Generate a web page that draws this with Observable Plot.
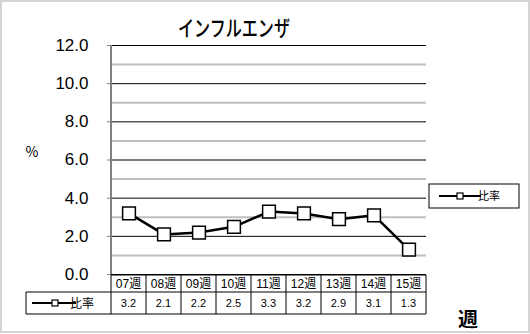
<!DOCTYPE html>
<html>
<head>
<meta charset="utf-8">
<script src="https://cdn.jsdelivr.net/npm/d3@7"></script>
<script src="https://cdn.jsdelivr.net/npm/@observablehq/plot@0.6"></script>
<style>
  html, body { margin: 0; padding: 0; background: #fff; }
  svg { display: block; }
</style>
</head>
<body>
<div id="chart"></div>
<script>
const title = "インフルエンザ";
const weeks = ["07週", "08週", "09週", "10週", "11週", "12週", "13週", "14週", "15週"];
const rates = [3.2, 2.1, 2.2, 2.5, 3.3, 3.2, 2.9, 3.1, 1.3];
const seriesName = "比率";
const yUnit = "%";
const xUnit = "週";
const yTicks = [0, 2, 4, 6, 8, 10, 12];
const minorGrid = [1, 3, 5, 7, 9, 11];

const data = weeks.map((w, i) => ({week: w, rate: rates[i]}));
const FONT = "'Liberation Sans', Arial, 'Noto Sans CJK JP', sans-serif";
const JFONT = "'Noto Sans CJK JP', sans-serif";

const plot = Plot.plot({
  width: 530,
  height: 334,
  marginLeft: 111,
  marginRight: 104,
  marginTop: 45,
  marginBottom: 60,
  style: {fontFamily: FONT, background: "#fff", overflow: "visible"},
  x: {type: "band", domain: weeks, padding: 0, axis: null},
  y: {domain: [0, 12], axis: null},
  marks: [
    Plot.ruleY(minorGrid, {stroke: "#c0c0c0", strokeWidth: 2}),
    Plot.ruleY(yTicks, {stroke: "#000", strokeWidth: 1}),
    Plot.axisY({ticks: yTicks, tickFormat: d3.format(".1f"), tickSize: 4, tickPadding: 19,
      stroke: "#808080", fontSize: 17, color: "#000", label: null}),
    Plot.line(data, {x: "week", y: "rate", stroke: "#000", strokeWidth: 2.5}),
    Plot.dot(data, {x: "week", y: "rate", symbol: "square", r: 7.2, fill: "#fff", stroke: "#000", strokeWidth: 1.5})
  ]
});

const svg = d3.select(plot);
const xs = plot.scale("x");
const ys = plot.scale("y");
const bw = xs.bandwidth;
const left = xs.apply(weeks[0]);
const right = xs.apply(weeks[weeks.length - 1]) + bw;
const y0 = ys.apply(0);
const yTop = ys.apply(12);

svg.selectAll("text").attr("fill", "#000");

// y axis line
svg.append("line").attr("x1", left).attr("x2", left).attr("y1", yTop).attr("y2", y0)
  .attr("stroke", "#808080").attr("stroke-width", 2);

// outer frame
svg.append("rect").attr("x", 1).attr("y", 1).attr("width", 528).attr("height", 331)
  .attr("fill", "none").attr("stroke", "#d4d4d4").attr("stroke-width", 2);

// title
svg.append("text").attr("x", 234).attr("y", 36).attr("text-anchor", "middle")
  .attr("font-family", JFONT).attr("font-size", 22).attr("font-weight", 500)
  .attr("textLength", 112).attr("lengthAdjust", "spacingAndGlyphs")
  .text(title);

// y unit
svg.append("text").attr("x", 32).attr("y", 157).attr("text-anchor", "middle")
  .attr("font-family", JFONT).attr("font-size", 14).text(yUnit);

// x unit
svg.append("text").attr("x", 468).attr("y", 327).attr("text-anchor", "middle")
  .attr("font-family", JFONT).attr("font-size", 20).attr("font-weight", "bold").text(xUnit);

// data table
const hTop = y0 + 1, hBot = y0 + 18, vBot = y0 + 40;
const legLeft = 26;
const tg = svg.append("g").attr("stroke", "#000").attr("stroke-width", 1).attr("fill", "none");
tg.append("line").attr("x1", left).attr("x2", right).attr("y1", hTop).attr("y2", hTop);
tg.append("line").attr("x1", legLeft).attr("x2", right).attr("y1", hBot).attr("y2", hBot);
tg.append("line").attr("x1", legLeft).attr("x2", right).attr("y1", vBot).attr("y2", vBot);
tg.append("line").attr("x1", legLeft).attr("x2", legLeft).attr("y1", hBot).attr("y2", vBot);
weeks.forEach((w) => {
  const xl = xs.apply(w);
  tg.append("line").attr("x1", xl).attr("x2", xl).attr("y1", hTop).attr("y2", vBot);
});
tg.append("line").attr("x1", right).attr("x2", right).attr("y1", hTop).attr("y2", vBot);

weeks.forEach((w, i) => {
  const cx = xs.apply(w) + bw / 2;
  svg.append("text").attr("x", cx).attr("y", (hTop + hBot) / 2 + 4.5).attr("text-anchor", "middle")
    .attr("font-family", FONT).attr("font-size", 12).text(w);
  svg.append("text").attr("x", cx).attr("y", (hBot + vBot) / 2 + 4).attr("text-anchor", "middle")
    .attr("font-family", FONT).attr("font-size", 11).text(d3.format(".1f")(rates[i]));
});

// legend key in table
const ly = (hBot + vBot) / 2;
svg.append("line").attr("x1", 32).attr("x2", 76).attr("y1", ly).attr("y2", ly)
  .attr("stroke", "#000").attr("stroke-width", 2);
svg.append("rect").attr("x", 52).attr("y", ly - 3).attr("width", 6).attr("height", 6)
  .attr("fill", "#fff").attr("stroke", "#000").attr("stroke-width", 1.2);
svg.append("text").attr("x", 82).attr("y", ly + 4.5).attr("font-family", JFONT)
  .attr("font-size", 12).text(seriesName);

// legend box
svg.append("rect").attr("x", 429).attr("y", 184).attr("width", 90).attr("height", 24)
  .attr("fill", "#fff").attr("stroke", "#000").attr("stroke-width", 1);
svg.append("line").attr("x1", 439).attr("x2", 481).attr("y1", 196).attr("y2", 196)
  .attr("stroke", "#000").attr("stroke-width", 2);
svg.append("rect").attr("x", 457).attr("y", 193).attr("width", 6).attr("height", 6)
  .attr("fill", "#fff").attr("stroke", "#000").attr("stroke-width", 1.2);
svg.append("text").attr("x", 489).attr("y", 200).attr("font-family", JFONT)
  .attr("font-size", 11).text(seriesName);

document.getElementById("chart").appendChild(plot);
</script>
</body>
</html>
